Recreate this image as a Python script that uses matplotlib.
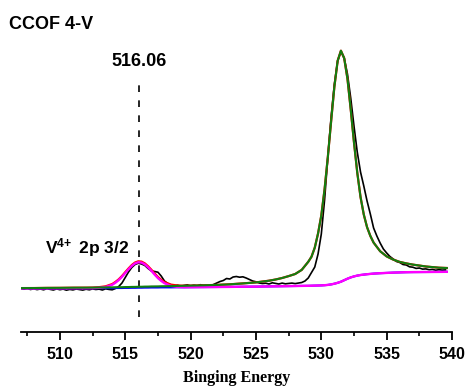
import numpy as np
import matplotlib
matplotlib.use('Agg')
import matplotlib.pyplot as plt

plt.rcParams['font.family'] = 'Liberation Sans'
plt.rcParams['mathtext.fontset'] = 'custom'
plt.rcParams['mathtext.rm'] = 'Liberation Sans'
plt.rcParams['mathtext.bf'] = 'Liberation Sans:bold'

# measured spectrum (binding energy, eV) - intensity in a.u.
energy = np.arange(507.0, 539.5 + 0.01, 0.25)
counts = [
    43.5, 42.8, 43.6, 42.5, 43.2, 42.4, 43.0, 42.2, 43.3, 42.6, 42.0, 43.1, 42.3, 42.9,
    41.8, 42.6, 42.1, 43.0, 42.4, 41.9, 42.8, 42.2, 43.1, 42.5, 42.9, 42.0, 43.2, 42.6,
    42.2, 43.5, 45.5, 49.0, 54.5, 60.0, 64.5, 67.5, 68.8, 68.0, 66.5, 63.5,
    61.0, 60.5, 59.8, 56.0, 51.0, 48.5, 47.0, 46.2, 46.8, 45.9, 46.5, 47.2,
    46.0, 46.8, 46.1, 47.3, 46.4, 47.0, 46.2, 47.5, 49.0, 50.5, 51.5, 53.5,
    53.0, 55.0, 55.5, 54.8, 55.2, 54.0, 52.5, 51.0, 50.2, 49.0, 48.5, 48.8,
    48.0, 49.2, 48.6, 48.0, 48.9, 48.2, 48.6, 48.9, 48.4, 48.9, 49.5, 51.0,
    54.0, 59.5, 65.0, 78.0, 98.0, 132.0, 175.0, 215.0, 248.0, 271.0, 280.5, 274.0,
    258, 234, 206, 180, 160, 146, 131, 118, 104, 96, 89, 83,
    79, 75.5, 73, 70.5, 69.5, 67.5, 67.0, 65.2, 64.8, 63.6, 64.0, 62.9,
    63.1, 62.3, 62.6, 61.8, 62.3, 61.9, 62.1,
]

# fitted components
fit_e = [507.0, 508.0, 509.0, 510.0, 511.0, 512.0, 512.5, 513.0, 513.5, 514.0,
         514.25, 514.5, 514.75, 515.0, 515.25, 515.5, 515.75, 516.0, 516.25, 516.5,
         516.75, 517.0, 517.25, 517.5, 517.75, 518.0, 518.5, 519.0, 519.5, 520.0,
         521.0, 522.0, 523.0, 524.0, 525.0, 526.0, 526.5, 527.0, 527.5, 528.0,
         528.5, 529.0, 529.25, 529.5, 529.75, 530.0, 530.25, 530.5, 530.75, 531.0,
         531.25, 531.5, 531.75, 532.0, 532.25, 532.5, 532.75, 533.0, 533.25, 533.5,
         533.75, 534.0, 534.5, 535.0, 535.5, 536.0, 536.5, 537.0, 538.0, 539.0,
         539.6]
background = [43.6, 43.6, 43.7, 43.7, 43.8, 43.8, 43.8, 43.9, 43.9, 43.9,
              44.0, 44.0, 44.0, 44.1, 44.1, 44.2, 44.2, 44.3, 44.3, 44.4,
              44.4, 44.5, 44.5, 44.5, 44.6, 44.6, 44.6, 44.7, 44.7, 44.8,
              44.9, 45.0, 45.1, 45.3, 45.4, 45.6, 45.7, 45.8, 45.9, 46.0,
              46.1, 46.2, 46.3, 46.4, 46.5, 46.6, 46.8, 47.1, 47.6, 48.3,
              49.2, 50.3, 51.8, 53.3, 54.6, 55.6, 56.4, 57.0, 57.4, 57.8,
              58.1, 58.4, 58.8, 59.1, 59.4, 59.6, 59.8, 59.9, 60.0, 60.1,
              60.2]
v_peak = [0, 0, 0, 0, 0, 0, 0.05, 0.3, 1.1, 3.3,
          5.3, 7.9, 11.2, 14.9, 18.6, 21.9, 24.4, 25.45, 25.1, 23.2,
          20.3, 16.7, 12.9, 9.4, 6.5, 4.2, 1.5, 0.4, 0.08, 0,
          0, 0, 0, 0, 0, 0, 0, 0, 0, 0,
          0, 0, 0, 0, 0, 0, 0, 0, 0, 0,
          0, 0, 0, 0, 0, 0, 0, 0, 0, 0,
          0, 0, 0, 0, 0, 0, 0, 0, 0, 0,
          0]
o_peak = [0.3, 0.35, 0.4, 0.45, 0.5, 0.55, 0.6, 0.65, 0.7, 0.75,
          0.78, 0.8, 0.82, 0.85, 0.87, 0.9, 0.92, 0.95, 0.97, 1.0,
          1.03, 1.06, 1.1, 1.13, 1.17, 1.2, 1.3, 1.4, 1.5, 1.6,
          1.8, 2.1, 2.6, 3.3, 4.2, 5.7, 6.8, 8.2, 10.0, 12.0,
          16.0, 24.0, 29.0, 38.0, 52.0, 70.0, 96.0, 128.0, 163.0, 197.0,
          222.0, 231.0, 222.0, 200.0, 168.0, 134.0, 103.0, 78.0, 60.0, 47.0,
          38.0, 31.0, 22.0, 16.5, 13.0, 10.5, 8.8, 7.5, 5.5, 4.2,
          3.8]

peak_pos = 516.06

fit_e = np.array(fit_e)
bg = np.array(background)
comp_v = bg + np.array(v_peak)
comp_o = bg + np.array(o_peak)
envelope = bg + np.array(v_peak) + np.array(o_peak)

fig = plt.figure(figsize=(4.69, 3.88), dpi=100)
ax = fig.add_axes([0.0441, 0.1443, 0.9197, 0.7552])

ax.plot(energy, counts, color='black', lw=1.2, zorder=2)
ax.plot(fit_e, envelope, color='red', lw=1.6, zorder=3)
ax.plot(fit_e, bg, color='blue', lw=1.5, zorder=4)
ax.plot(fit_e, comp_v, color='#ff00ff', lw=1.7, zorder=5)
ax.plot(fit_e, comp_o, color='#108010', lw=1.5, zorder=6)

ax.axvline(peak_pos, ymin=15 / 293, ymax=249 / 293, color='black', lw=1.2,
           dashes=(4, 5), zorder=1)

ax.text(peak_pos, 270, '516.06', ha='center', va='center', fontsize=13, fontweight='bold')
ax.text(512.1, 79, r'$\mathbf{V^{4\!+}}$ 2p 3/2', ha='center', va='baseline',
        fontsize=12.5, fontweight='bold')
fig.text(0.019, 0.925, 'CCOF 4-V', ha='left', va='baseline', fontsize=13, fontweight='bold')

ax.set_xlim(507.0, 540.0)
ax.set_ylim(0, 293)
ax.set_xticks([510, 515, 520, 525, 530, 535, 540])
ax.set_xticks(np.arange(507.5, 540, 5), minor=True)
ax.set_yticks([])
for s in ['left', 'right', 'top']:
    ax.spines[s].set_visible(False)
ax.spines['bottom'].set_linewidth(1.3)
ax.tick_params(axis='x', which='major', direction='out', length=5.5, width=1.3, pad=5,
               labelsize=11.5)
ax.tick_params(axis='x', which='minor', direction='out', length=3, width=1.2)
for lab in ax.get_xticklabels():
    lab.set_fontweight('bold')
ax.set_xlabel('Binging Energy', fontfamily='Liberation Serif', fontweight='bold',
              fontsize=11.5, labelpad=6)

fig.savefig('out.png', dpi=100)
